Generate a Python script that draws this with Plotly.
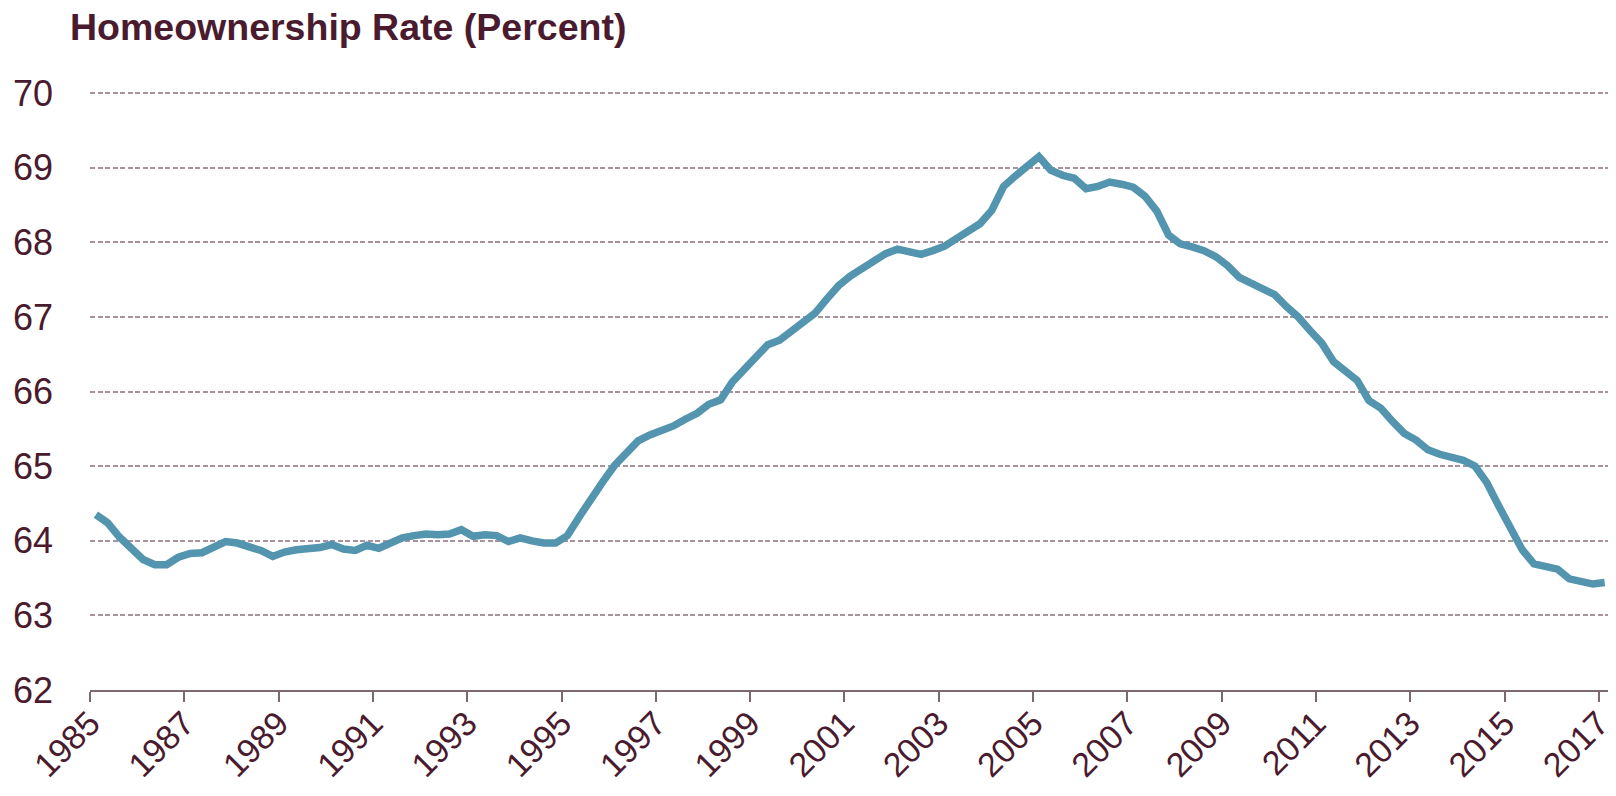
import plotly.graph_objects as go

# Quarterly homeownership rate, 1985Q1 .. 2017Q1 (percent)
start_year = 1985
rate = [
    64.35, 64.24, 64.05, 63.89, 63.75, 63.68, 63.68, 63.78, 63.83, 63.84,
    63.92, 63.99, 63.97, 63.93, 63.87, 63.79, 63.85, 63.88, 63.89, 63.91,
    63.95, 63.89, 63.87, 63.94, 63.90, 63.97, 64.04, 64.07, 64.09, 64.08,
    64.09, 64.15, 64.06, 64.08, 64.07, 63.99, 64.04, 64.00, 63.97, 63.97,
    64.07, 64.32, 64.57, 64.79, 65.01, 65.19, 65.34, 65.42, 65.47, 65.54,
    65.63, 65.71, 65.83, 65.89, 66.13, 66.30, 66.48, 66.63, 66.69, 66.80,
    66.91, 67.05, 67.24, 67.42, 67.55, 67.65, 67.75, 67.85, 67.91, 67.88,
    67.84, 67.89, 67.95, 68.05, 68.16, 68.25, 68.43, 68.75, 68.89, 69.02,
    69.15, 68.97, 68.90, 68.86, 68.72, 68.75, 68.81, 68.78, 68.74, 68.62,
    68.42, 68.10, 67.98, 67.94, 67.89, 67.81, 67.69, 67.53, 67.45, 67.36,
    67.30, 67.14, 67.00, 66.82, 66.65, 66.40, 66.27, 66.15, 65.88, 65.78,
    65.60, 65.44, 65.35, 65.22, 65.16, 65.12, 65.08, 65.00, 64.78, 64.47,
    64.15, 63.88, 63.69, 63.65, 63.62, 63.49, 63.45, 63.42, 63.44,
]
# each quarter plotted at its mid-point
quarter_time = [start_year + i / 4 + 0.125 for i in range(len(rate))]

x_tick_years = list(range(1985, 2018, 2))
x_tick_labels = [str(y) for y in x_tick_years]
y_ticks = list(range(62, 71))
y_tick_labels = [str(v) for v in y_ticks]

title_text = "Homeownership Rate (Percent)"

TEXT = "#4a1a2e"
LINE = "#5394ae"
GRID = "#a8929e"
AXIS = "#7b6870"
FONT = "Liberation Sans, Arial, sans-serif"

# The page body keeps its default 8px margin, so the figure is sized to fit.
W, H = 1600, 780

fig = go.Figure()
fig.add_trace(go.Scatter(
    x=quarter_time, y=rate, mode="lines",
    line=dict(color=LINE, width=7.5),
    hoverinfo="x+y", showlegend=False,
))

fig.update_layout(
    width=W, height=H,
    margin=dict(l=82, r=0, t=83, b=98),
    paper_bgcolor="white", plot_bgcolor="white",
    font=dict(family=FONT, color=TEXT),
    title=dict(
        text="<b>" + title_text + "</b>",
        font=dict(family=FONT, size=37.5, color=TEXT),
        xref="container", yref="container",
        x=62 / W, xanchor="left",
        y=1 - 19 / H, yanchor="middle",
    ),
    xaxis=dict(
        range=[1985, 2017.195],
        tickmode="array", tickvals=x_tick_years, ticktext=x_tick_labels,
        tickangle=-45,
        tickfont=dict(family=FONT, size=34, color=TEXT),
        ticks="outside", ticklen=10, tickwidth=1.5, tickcolor=AXIS,
        ticklabelstandoff=-12, ticklabeloverflow="allow",
        showline=True, linecolor=AXIS, linewidth=1.5,
        showgrid=False, zeroline=False, automargin=False,
    ),
    yaxis=dict(
        range=[62, 70.03],
        tickmode="array", tickvals=y_ticks, ticktext=y_tick_labels,
        tickfont=dict(family=FONT, size=36, color=TEXT),
        ticks="", ticklabelstandoff=36,
        showgrid=True, gridcolor=GRID, gridwidth=1.5, griddash="5px,2.5px",
        showline=False, zeroline=False, automargin=False,
    ),
)

fig.write_html("out.html")
